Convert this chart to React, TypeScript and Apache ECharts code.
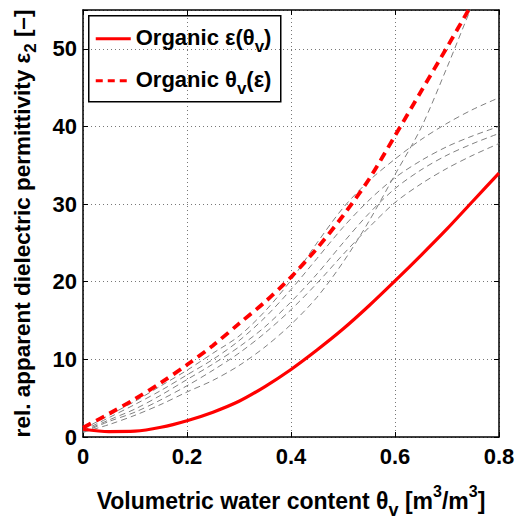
import React, { useEffect, useRef } from "react";
import * as echarts from "echarts";

const theta = [0, 0.05, 0.1, 0.15, 0.2, 0.25, 0.3, 0.35, 0.4, 0.45, 0.5, 0.55, 0.6, 0.65, 0.7, 0.75, 0.8];

const organicEps = [1.0, 0.7, 0.75, 1.25, 2.1, 3.2, 4.6, 6.5, 8.7, 11.2, 13.9, 16.9, 20.1, 23.4, 26.8, 30.4, 34.0];
const organicTheta = [1.2, 3.0, 4.9, 7.0, 9.3, 11.8, 14.6, 17.4, 20.6, 24.3, 28.5, 33.2, 38.8, 44.5, 50.2, 56.0];

const gray1 = [0.6, 1.6, 2.8, 4.2, 5.8, 7.3, 9.2, 11.6, 14.5, 18.0, 22.5, 27.8, 33.8, 39.8, 47.6, 55.8, 63.0];
const gray2 = [1.0, 2.8, 4.6, 6.6, 8.6, 10.8, 13.0, 16.2, 20.2, 25.0, 29.5, 33.0, 35.8, 38.3, 40.4, 42.2, 43.7];
const gray3 = [0.8, 2.5, 4.2, 6.0, 8.0, 10.0, 12.4, 15.4, 19.0, 23.0, 27.0, 30.5, 33.4, 35.6, 37.4, 38.8, 40.0];
const gray4 = [0.7, 2.2, 3.6, 5.4, 7.4, 9.4, 11.6, 14.2, 17.4, 21.0, 25.0, 28.8, 32.0, 34.4, 36.3, 37.8, 39.1];
const gray5 = [0.6, 2.0, 3.2, 4.8, 6.6, 8.6, 10.8, 13.4, 16.4, 19.8, 23.5, 27.0, 30.2, 32.6, 34.6, 36.3, 37.8];
const grayCurves = [gray1, gray2, gray3, gray4, gray5];

const xTicks = [0, 0.2, 0.4, 0.6, 0.8];
const yTicks = [0, 10, 20, 30, 40, 50];

const legendNames = ["Organic ε(θv)", "Organic θv(ε)"];

const FONT = "Liberation Sans";

const pairs = (ys: number[]) => theta.map((t, i) => [t, ys[i]]);

export default function App() {
  const ref = useRef<HTMLDivElement>(null);
  useEffect(() => {
    if (!ref.current) return;
    const chart = echarts.init(ref.current, null, { renderer: "svg" });
    const gridLine = { show: true, lineStyle: { color: "#777", type: [1, 3] as any, width: 1 } };
    const base = { fontFamily: FONT, fontWeight: "bold", color: "#000" };
    const xRich = {
      a: { ...base, fontSize: 23, lineHeight: 36, verticalAlign: "middle" },
      s: { ...base, fontSize: 18, lineHeight: 4, verticalAlign: "bottom" },
      p: { ...base, fontSize: 16, lineHeight: 20, verticalAlign: "top" },
    };
    const yRich = {
      a: { ...base, fontSize: 22.5, lineHeight: 34, verticalAlign: "middle" },
      s: { ...base, fontSize: 17, lineHeight: 10, verticalAlign: "bottom" },
    };
    const legendRich = {
      a: { ...base, fontSize: 22, lineHeight: 34, verticalAlign: "middle" },
      s: { ...base, fontSize: 17, lineHeight: 8, verticalAlign: "bottom" },
    };
    const series: any[] = [];
    grayCurves.forEach((g, i) => {
      series.push({
        name: "sample " + (i + 1),
        type: "line",
        data: pairs(g),
        smooth: 0.3,
        symbol: "none",
        lineStyle: { color: "#808080", width: 1, type: [6, 4] },
        z: 1,
      });
    });
    series.push({
      name: legendNames[0],
      type: "line",
      data: pairs(organicEps),
      smooth: 0.3,
      symbol: "none",
      lineStyle: { color: "#ff0000", width: 3.2 },
      itemStyle: { color: "#ff0000" },
      z: 3,
    });
    series.push({
      name: legendNames[1],
      type: "line",
      data: pairs(organicTheta),
      smooth: 0.3,
      symbol: "none",
      lineStyle: { color: "#ff0000", width: 3.8, type: [9, 6] },
      itemStyle: { color: "#ff0000" },
      z: 3,
    });
    chart.setOption({
      animation: false,
      backgroundColor: "#fff",
      grid: { left: 83, right: 23, top: 10, bottom: 67, containLabel: false },
      graphic: [
        {
          type: "group",
          left: 88,
          top: 15,
          z: 100,
          children: [
            {
              type: "rect",
              shape: { x: 0, y: 0, width: 192, height: 86 },
              style: { fill: "#fff", stroke: "#000", lineWidth: 1.5 },
            },
            {
              type: "line",
              shape: { x1: 7, y1: 23, x2: 42, y2: 23 },
              style: { stroke: "#ff0000", lineWidth: 3.2 },
            },
            {
              type: "line",
              shape: { x1: 7, y1: 65, x2: 42, y2: 65 },
              style: { stroke: "#ff0000", lineWidth: 3.2, lineDash: [7, 5] },
            },
            {
              type: "text",
              x: 47,
              y: 22,
              style: {
                text: "{a|Organic ε(θ}{s|v}{a|)}",
                rich: legendRich as any,
                verticalAlign: "middle",
                align: "left",
              },
            },
            {
              type: "text",
              x: 47,
              y: 64,
              style: {
                text: "{a|Organic θ}{s|v}{a|(ε)}",
                rich: legendRich as any,
                verticalAlign: "middle",
                align: "left",
              },
            },
          ],
        },
      ],
      xAxis: [
        {
          type: "value",
          min: 0,
          max: 0.8,
          interval: 0.2,
          name: "{a|Volumetric water content θ}{s|v}{a| [m}{p|3}{a|/m}{p|3}{a|]}",
          nameLocation: "middle",
          nameGap: 46,
          nameTextStyle: { rich: xRich as any },
          axisLine: { show: true, onZero: false, lineStyle: { color: "#000", width: 1.5 } },
          axisTick: { show: true, inside: true, length: 5, lineStyle: { color: "#000", width: 1 } },
          axisLabel: {
            margin: 8,
            fontFamily: FONT,
            fontWeight: "bold",
            fontSize: 22,
            color: "#000",
            formatter: (v: number) => (xTicks.some((t) => Math.abs(t - v) < 1e-9) ? String(+v.toFixed(1)) : ""),
          },
          splitLine: gridLine,
        },
        {
          type: "value",
          position: "top",
          min: 0,
          max: 0.8,
          interval: 0.2,
          axisLine: { show: true, onZero: false, lineStyle: { color: "#000", width: 1.5 } },
          axisTick: { show: true, inside: true, length: 5, lineStyle: { color: "#000" } },
          axisLabel: { show: false },
          splitLine: { show: false },
        },
      ],
      yAxis: [
        {
          type: "value",
          min: 0,
          max: 55,
          interval: 10,
          name: "{a|rel. apparent dielectric permittivity ε}{s|2}{a| [–]}",
          nameLocation: "middle",
          nameGap: 44,
          nameTextStyle: { rich: yRich as any },
          axisLine: { show: true, onZero: false, lineStyle: { color: "#000", width: 1.5 } },
          axisTick: { show: true, inside: true, length: 5, lineStyle: { color: "#000" } },
          axisLabel: {
            margin: 6,
            fontFamily: FONT,
            fontWeight: "bold",
            fontSize: 22,
            color: "#000",
            formatter: (v: number) => (yTicks.includes(v) ? String(v) : ""),
          },
          splitLine: gridLine,
        },
        {
          type: "value",
          position: "right",
          min: 0,
          max: 55,
          interval: 10,
          axisLine: { show: true, onZero: false, lineStyle: { color: "#000", width: 1.5 } },
          axisTick: { show: true, inside: true, length: 5, lineStyle: { color: "#000" } },
          axisLabel: { show: false },
          splitLine: { show: false },
        },
      ],
      series,
    });
    return () => chart.dispose();
  }, []);
  return <div ref={ref} style={{ width: 522, height: 524, position: "absolute", left: 0, top: 0 }} />;
}
